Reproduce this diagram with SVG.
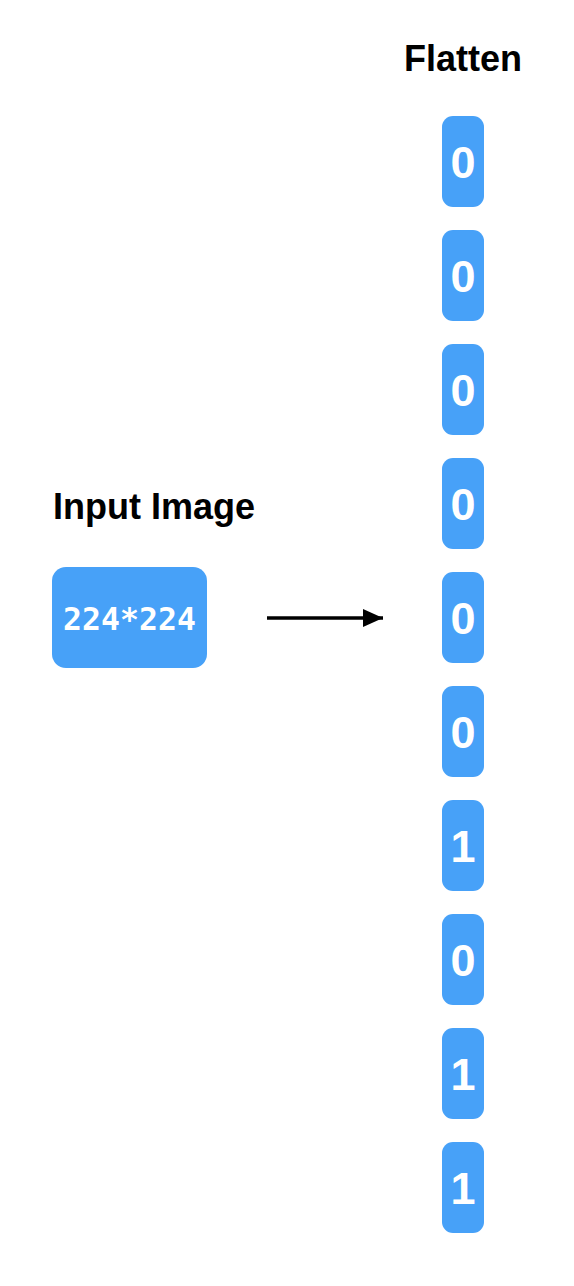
<svg xmlns="http://www.w3.org/2000/svg" width="574" height="1286" viewBox="0 0 574 1286">
<defs>
<style>
.box{fill:#47a1f8}
.bit{font-family:"Liberation Sans",Arial,sans-serif;font-weight:bold;font-size:45px;fill:#fff;text-anchor:middle}
.title{font-family:"Liberation Sans",Arial,sans-serif;font-weight:bold;font-size:36px;fill:#000}
.mono{font-family:"DejaVu Sans Mono",monospace;font-weight:bold;font-size:31.5px;fill:#fff;text-anchor:middle}
</style>
<marker id="arr" markerWidth="20" markerHeight="18" refX="20" refY="9" orient="auto" markerUnits="userSpaceOnUse">
<path d="M0,0 L20,9 L0,18 Z" fill="#000"/>
</marker>
</defs>
<rect width="574" height="1286" fill="#fff"/>
<text class="title" x="404" y="71">Flatten</text>
<text class="title" x="53" y="519">Input Image</text>
<g id="input">
<rect class="box" x="52" y="567" width="155" height="101" rx="14"/>
<text class="mono" x="129.5" y="630">224*224</text>
</g>
<g id="connectors">
<line x1="267" y1="618" x2="383" y2="618" stroke="#000" stroke-width="3.5" marker-end="url(#arr)"/>
</g>
<g id="b0"><rect class="box" x="442" y="116" width="42" height="91" rx="11"/><text class="bit" x="463" y="178">0</text></g>
<g id="b1"><rect class="box" x="442" y="230" width="42" height="91" rx="11"/><text class="bit" x="463" y="292">0</text></g>
<g id="b2"><rect class="box" x="442" y="344" width="42" height="91" rx="11"/><text class="bit" x="463" y="406">0</text></g>
<g id="b3"><rect class="box" x="442" y="458" width="42" height="91" rx="11"/><text class="bit" x="463" y="520">0</text></g>
<g id="b4"><rect class="box" x="442" y="572" width="42" height="91" rx="11"/><text class="bit" x="463" y="634">0</text></g>
<g id="b5"><rect class="box" x="442" y="686" width="42" height="91" rx="11"/><text class="bit" x="463" y="748">0</text></g>
<g id="b6"><rect class="box" x="442" y="800" width="42" height="91" rx="11"/><text class="bit" x="463" y="862">1</text></g>
<g id="b7"><rect class="box" x="442" y="914" width="42" height="91" rx="11"/><text class="bit" x="463" y="976">0</text></g>
<g id="b8"><rect class="box" x="442" y="1028" width="42" height="91" rx="11"/><text class="bit" x="463" y="1090">1</text></g>
<g id="b9"><rect class="box" x="442" y="1142" width="42" height="91" rx="11"/><text class="bit" x="463" y="1204">1</text></g>
</svg>
